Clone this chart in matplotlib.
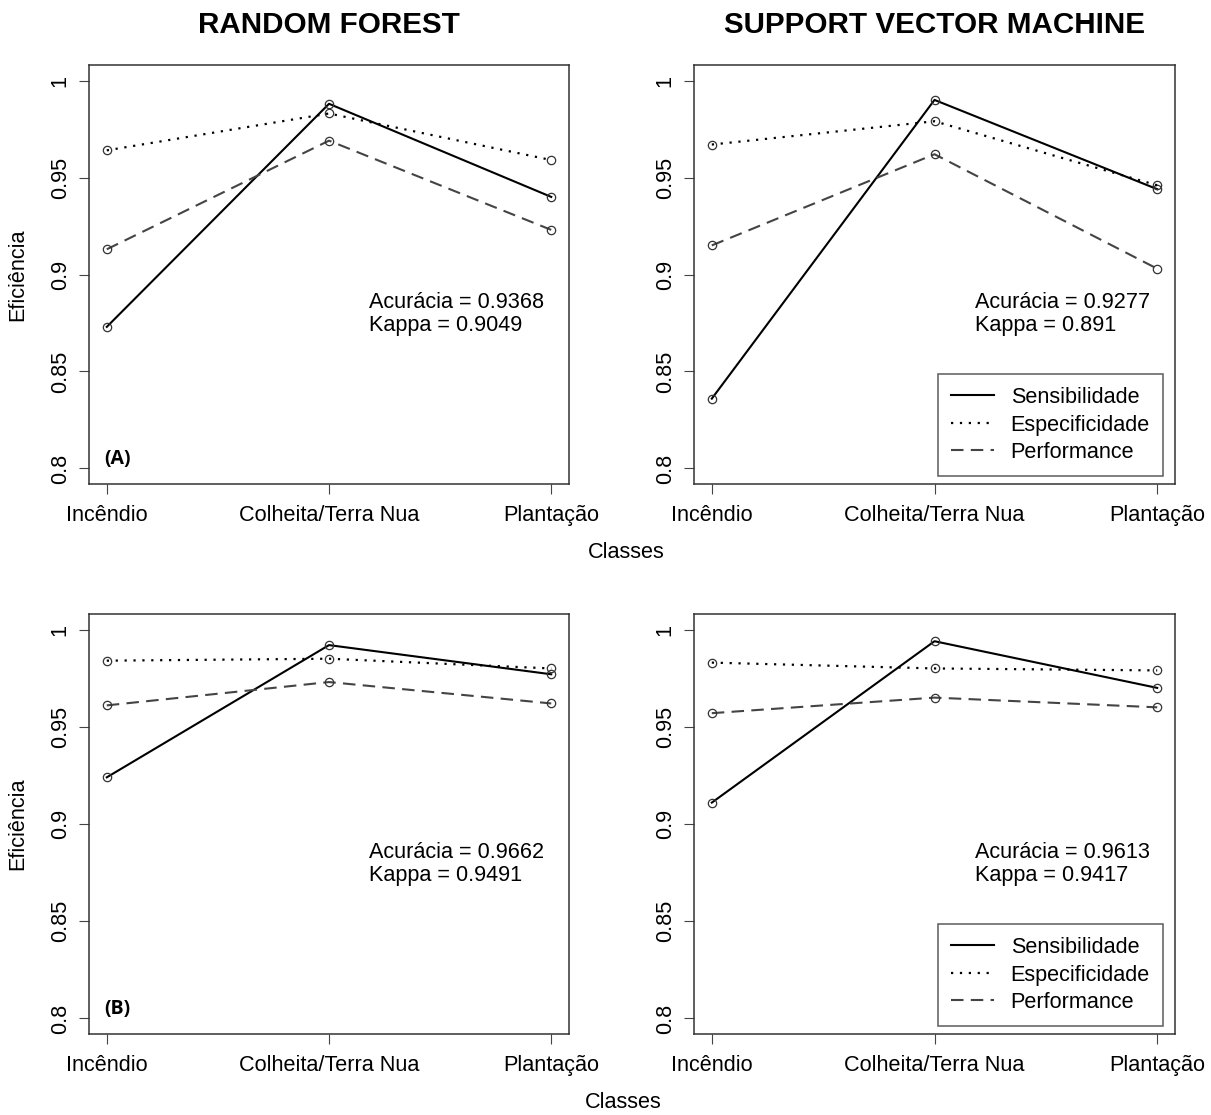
import numpy as np
import matplotlib
matplotlib.use("Agg")
import matplotlib.pyplot as plt
from matplotlib.lines import Line2D

plt.rcParams['font.family'] = ['Liberation Sans', 'DejaVu Sans']

# x categories
classes = ["Incêndio", "Colheita/Terra Nua", "Plantação"]

# (A) Random Forest
rf_a_sens = [0.873, 0.988, 0.940]
rf_a_spec = [0.964, 0.983, 0.959]
rf_a_perf = [0.913, 0.969, 0.923]
# (A) SVM
svm_a_sens = [0.836, 0.990, 0.944]
svm_a_spec = [0.967, 0.979, 0.946]
svm_a_perf = [0.915, 0.962, 0.903]
# (B) Random Forest
rf_b_sens = [0.924, 0.992, 0.977]
rf_b_spec = [0.984, 0.985, 0.980]
rf_b_perf = [0.961, 0.973, 0.962]
# (B) SVM
svm_b_sens = [0.911, 0.994, 0.970]
svm_b_spec = [0.983, 0.980, 0.979]
svm_b_perf = [0.957, 0.965, 0.960]

accuracy = [0.9368, 0.9277, 0.9662, 0.9613]
kappa = ["0.9049", "0.891", "0.9491", "0.9417"]

series_names = ["Sensibilidade", "Especificidade", "Performance"]
yticks = [0.8, 0.85, 0.9, 0.95, 1.0]
ytick_labels = ["0.8", "0.85", "0.9", "0.95", "1"]

W, H = 1211, 1115
fig = plt.figure(figsize=(W / 100, H / 100), dpi=100)

FS = 15.6
styles = [
    dict(color="black", linestyle="-", lw=1.5),
    dict(color="black", linestyle=(0, (1, 3)), lw=1.6),
    dict(color="#444444", linestyle=(0, (6, 3.5)), lw=1.5),
]


def px_axes(x0, y0, x1, y1):
    return fig.add_axes([x0 / W, 1 - y1 / H, (x1 - x0) / W, (y1 - y0) / H])


panels = [
    (px_axes(89, 65, 569, 484), [rf_a_sens, rf_a_spec, rf_a_perf], "(A)", False),
    (px_axes(694, 65, 1175, 484), [svm_a_sens, svm_a_spec, svm_a_perf], None, True),
    (px_axes(89, 614, 569, 1034), [rf_b_sens, rf_b_spec, rf_b_perf], "(B)", False),
    (px_axes(694, 614, 1175, 1034), [svm_b_sens, svm_b_spec, svm_b_perf], None, True),
]

x = np.arange(1, len(classes) + 1)
for i, (ax, data, tag, show_leg) in enumerate(panels):
    handles = []
    for vals, st, name in zip(data, styles, series_names):
        ax.plot(x, vals, color=st["color"], linestyle=st["linestyle"], lw=st["lw"])
        ax.plot(x, vals, linestyle="none", marker="o", ms=6, mfc="none",
                mec="#333333", mew=0.9)
        handles.append(Line2D([], [], color=st["color"], linestyle=st["linestyle"],
                              lw=st["lw"], label=name))
    ax.set_xlim(0.92, 3.08)
    ax.set_ylim(0.792, 1.008)
    ax.set_xticks(x)
    ax.set_xticklabels(classes, fontsize=FS)
    ax.set_yticks(yticks)
    ax.set_yticklabels(ytick_labels, fontsize=FS, rotation=90, va="center")
    ax.tick_params(axis="both", length=7.2, width=0.8, color="#444444")
    ax.tick_params(axis="x", pad=8)
    ax.tick_params(axis="y", pad=6)
    for sp in ax.spines.values():
        sp.set_color("#333333")
        sp.set_linewidth(1.1)

    ax.text(2.18, 0.8795, "Acurácia = %s\nKappa = %s" % (accuracy[i], kappa[i]),
            fontsize=FS, ha="left", va="center", linespacing=1.12)

    if tag:
        ax.text(0.99, 0.8051, tag, fontsize=14, fontweight="bold",
                family=["Open Sans", "DejaVu Sans"], ha="left", va="center")

    if show_leg:
        leg = ax.legend(handles=handles, loc="lower right",
                        bbox_to_anchor=(0.975, 0.019), borderaxespad=0,
                        fontsize=FS, frameon=True, fancybox=False,
                        handlelength=2.0, handletextpad=0.75,
                        borderpad=0.6, labelspacing=0.3)
        leg.get_frame().set_edgecolor("#333333")
        leg.get_frame().set_linewidth(1.1)

# titles
fig.text(329 / W, 1 - 25 / H, "RANDOM FOREST", fontsize=21.3, fontweight="bold",
         ha="center", va="center")
fig.text(934.5 / W, 1 - 25 / H, "SUPPORT VECTOR MACHINE", fontsize=21.3,
         fontweight="bold", ha="center", va="center")

# shared axis labels
fig.text(18 / W, 1 - 274.5 / H, "Eficiência", fontsize=FS, rotation=90,
         ha="center", va="center")
fig.text(18 / W, 1 - 824 / H, "Eficiência", fontsize=FS, rotation=90,
         ha="center", va="center")
fig.text(626 / W, 1 - 553 / H, "Classes", fontsize=FS, ha="center", va="center")
fig.text(623 / W, 1 - 1102 / H, "Classes", fontsize=FS, ha="center", va="center")

fig.savefig("out.png", dpi=100)
